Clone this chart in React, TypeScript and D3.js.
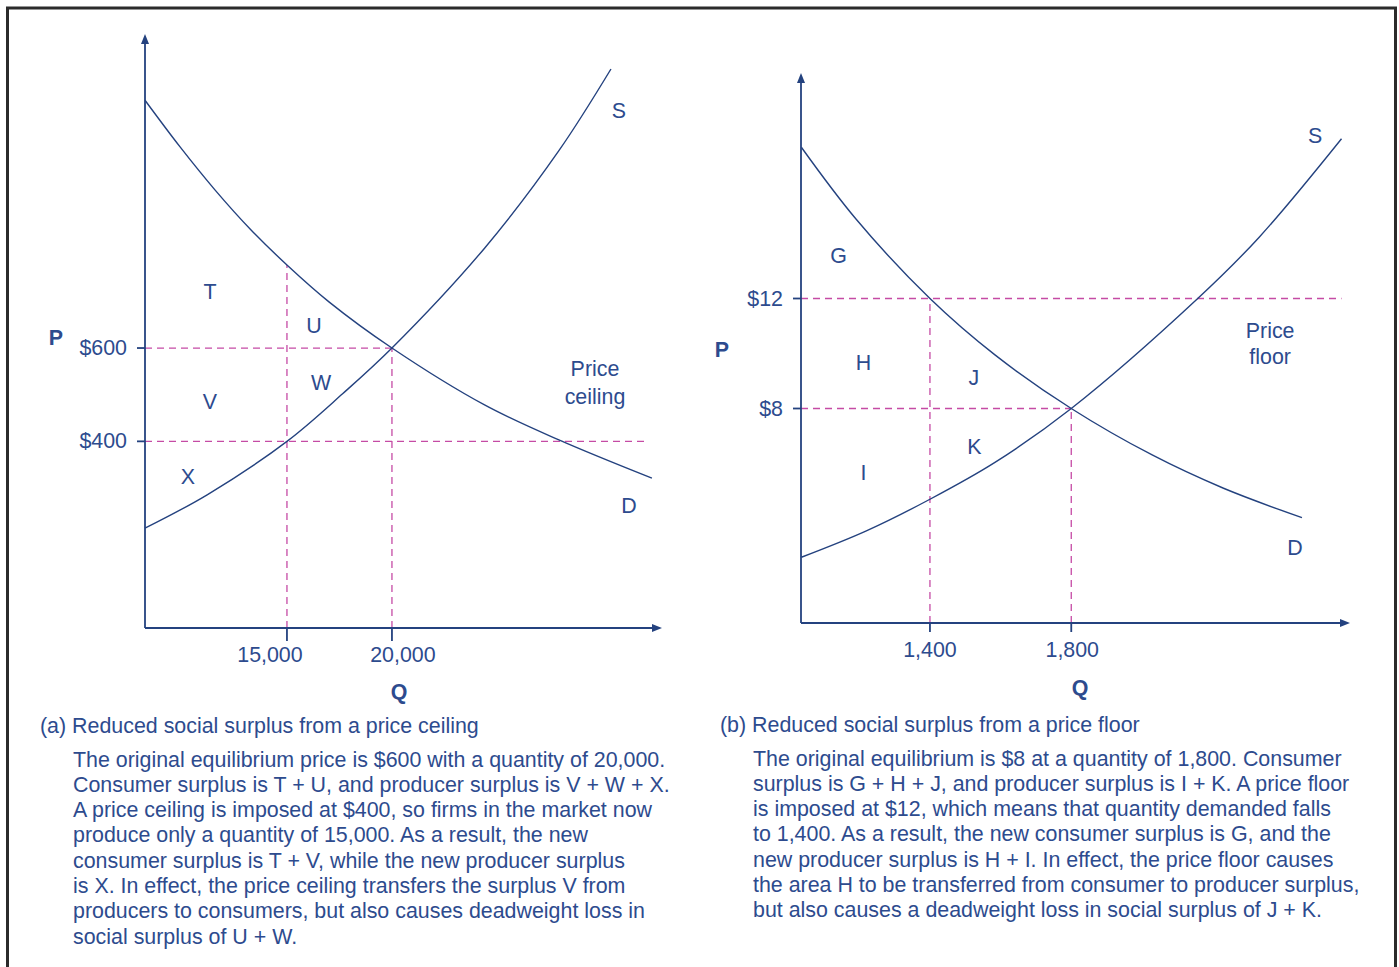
import * as d3 from 'd3';

// (Q, P) points
const ceilingDemand: [number, number][] = [
  [8240, 1131], [9910, 1031], [11570, 939], [13290, 853], [15000, 778],
  [17000, 699], [20000, 600], [24410, 478], [27950, 403], [32380, 321],
];
const ceilingSupply: [number, number][] = [
  [8240, 214], [11220, 286], [15000, 400], [17650, 502], [20000, 600],
  [24410, 814], [27950, 1023], [30430, 1198],
];
const floorDemand: [number, number][] = [
  [1036, 17.5], [1190, 14.9], [1400, 12], [1584, 9.95], [1800, 8],
  [2029, 6.31], [2231, 5.1], [2453, 4.03],
];
const floorSupply: [number, number][] = [
  [1036, 2.59], [1220, 3.55], [1400, 4.7], [1584, 6.04], [1800, 8],
  [2158, 12], [2332, 14.23], [2565, 17.81],
];

const priceTicksA = [400, 600];
const qtyTicksA = [15000, 20000];
const priceTicksB = [8, 12];
const qtyTicksB = [1400, 1800];

const fmtPrice = (v: number) => '$' + v;
const fmtQty = d3.format(',');

// area labels, in data units
const areaLabelsA: [string, number, number][] = [
  ['T', 11335, 720], ['U', 16288, 647], ['W', 16621, 525], ['V', 11335, 484],
  ['X', 10288, 324], ['S', 30811, 1108], ['D', 31288, 261],
  ['Price', 29669, 555], ['ceiling', 29669, 495],
];
const areaLabelsB: [string, number, number][] = [
  ['G', 1141, 13.53], ['H', 1212, 9.64], ['J', 1524, 9.1], ['K', 1526, 6.6],
  ['I', 1212, 5.64], ['S', 2490, 17.92], ['D', 2433, 2.91],
  ['Price', 2363, 10.83], ['floor', 2363, 9.87],
];

const captionA = '(a) Reduced social surplus from a price ceiling';
const textA = [
  'The original equilibrium price is $600 with a quantity of 20,000.',
  'Consumer surplus is T + U, and producer surplus is V + W + X.',
  'A price ceiling is imposed at $400, so firms in the market now',
  'produce only a quantity of 15,000. As a result, the new',
  'consumer surplus is T + V, while the new producer surplus',
  'is X. In effect, the price ceiling transfers the surplus V from',
  'producers to consumers, but also causes deadweight loss in',
  'social surplus of U + W.',
];
const captionB = '(b) Reduced social surplus from a price floor';
const textB = [
  'The original equilibrium is $8 at a quantity of 1,800. Consumer',
  'surplus is G + H + J, and producer surplus is I + K. A price floor',
  'is imposed at $12, which means that quantity demanded falls',
  'to 1,400. As a result, the new consumer surplus is G, and the',
  'new producer surplus is H + I. In effect, the price floor causes',
  'the area H to be transferred from consumer to producer surplus,',
  'but also causes a deadweight loss in social surplus of J + K.',
];

const TEXT = '#2d4b8e';
const CURVE = '#24427f';
const DASH = '#c54ba5';
const FONT = '"Liberation Sans", Arial, Helvetica, sans-serif';
const FS = 21.4;

interface PanelProps {
  demand: [number, number][];
  supply: [number, number][];
  qDomain: [number, number];
  qRange: [number, number];
  pDomain: [number, number];
  pRange: [number, number];
  priceTicks: number[];
  qtyTicks: number[];
  qtyLabelShift: number[];
  tickLen: number;
  control: number; // the price ceiling / floor
  controlEnd: number;
  labels: [string, number, number][];
  pLabel: [number, number];
  qLabel: [number, number];
}

const Panel = (props: PanelProps) => {
  const x = d3.scaleLinear().domain(props.qDomain).range(props.qRange);
  const y = d3.scaleLinear().domain(props.pDomain).range(props.pRange);
  const line = d3.line<[number, number]>()
    .x(d => x(d[0]))
    .y(d => y(d[1]))
    .curve(d3.curveCatmullRom.alpha(0.5));

  const x0 = x(props.qDomain[0]);
  const y0 = y(props.pDomain[0]);
  const xEnd = x(props.qDomain[1]);
  const yEnd = y(props.pDomain[1]);

  // demand price at a quantity -> top of vertical dashed line
  const demandAt = (q: number) => {
    const pts = props.demand;
    for (let i = 0; i < pts.length - 1; i++) {
      if (q >= pts[i][0] && q <= pts[i + 1][0]) {
        const t = (q - pts[i][0]) / (pts[i + 1][0] - pts[i][0]);
        return pts[i][1] + t * (pts[i + 1][1] - pts[i][1]);
      }
    }
    return pts[pts.length - 1][1];
  };
  const eqQ = Math.max(...props.qtyTicks);
  const eqP = props.priceTicks.find(p => p !== props.control)!;

  return (
    <g>
      {/* dashed guides */}
      <g stroke={DASH} strokeWidth={1.3} strokeDasharray="7,5" fill="none">
        <line x1={x0} x2={x(eqQ)} y1={y(eqP)} y2={y(eqP)} />
        <line x1={x0} x2={x(props.controlEnd)} y1={y(props.control)} y2={y(props.control)} />
        {props.qtyTicks.map(q => {
          const top = q === eqQ ? eqP : Math.max(demandAt(q), props.control);
          return <line key={q} x1={x(q)} x2={x(q)} y1={y0} y2={y(top)} />;
        })}
      </g>

      {/* curves */}
      <path d={line(props.demand)!} fill="none" stroke={CURVE} strokeWidth={1.4} />
      <path d={line(props.supply)!} fill="none" stroke={CURVE} strokeWidth={1.4} />

      {/* axes */}
      <g stroke={CURVE} strokeWidth={1.8}>
        <line x1={x0} x2={x0} y1={y0} y2={yEnd + 6} />
        <line x1={x0} x2={xEnd - 6} y1={y0} y2={y0} />
        {props.priceTicks.map(p => (
          <line key={p} x1={x0 - 8} x2={x0} y1={y(p)} y2={y(p)} />
        ))}
        {props.qtyTicks.map(q => (
          <line key={q} x1={x(q)} x2={x(q)} y1={y0} y2={y0 + props.tickLen} />
        ))}
      </g>
      <path d={`M${x0},${yEnd} L${x0 - 4},${yEnd + 10} L${x0 + 4},${yEnd + 10} Z`} fill={CURVE} />
      <path d={`M${xEnd},${y0} L${xEnd - 10},${y0 - 4} L${xEnd - 10},${y0 + 4} Z`} fill={CURVE} />

      {/* tick labels */}
      <g fill={TEXT} fontSize={FS} fontFamily={FONT}>
        {props.priceTicks.map(p => (
          <text key={p} x={x0 - 18} y={y(p)} textAnchor="end" dominantBaseline="central">
            {fmtPrice(p)}
          </text>
        ))}
        {props.qtyTicks.map((q, i) => (
          <text key={q} x={x(q) + props.qtyLabelShift[i]} y={y0 + 27} textAnchor="middle" dominantBaseline="central">
            {fmtQty(q)}
          </text>
        ))}
        {props.labels.map(([t, q, p], i) => (
          <text key={i} x={x(q)} y={y(p)} textAnchor="middle" dominantBaseline="central">
            {t}
          </text>
        ))}
        <text x={props.pLabel[0]} y={props.pLabel[1]} textAnchor="middle" dominantBaseline="central" fontWeight="bold">P</text>
        <text x={props.qLabel[0]} y={props.qLabel[1]} textAnchor="middle" dominantBaseline="central" fontWeight="bold">Q</text>
      </g>
    </g>
  );
};

const Caption = ({ x, y, title, lines }: { x: number; y: number; title: string; lines: string[] }) => (
  <g fill={TEXT} fontSize={FS} fontFamily={FONT}>
    <text x={x} y={y} dominantBaseline="central">{title}</text>
    {lines.map((l, i) => (
      <text key={i} x={x + 33} y={y + 33.5 + i * 25.3} dominantBaseline="central">{l}</text>
    ))}
  </g>
);

export default function App() {
  return (
    <div style={{ position: 'absolute', left: 0, top: 0 }}>
      <svg width={1399} height={967} style={{ display: 'block', background: '#fff' }}>
        <rect x={7.5} y={8} width={1388} height={1000} fill="none" stroke="#2b2b2b" strokeWidth={3} />
        <Panel
          demand={ceilingDemand}
          supply={ceilingSupply}
          qDomain={[8240, 32860]}
          qRange={[145, 662]}
          pDomain={[0, 1273]}
          pRange={[628, 34]}
          priceTicks={priceTicksA}
          qtyTicks={qtyTicksA}
          qtyLabelShift={[-17, 11]}
          tickLen={13}
          control={400}
          controlEnd={32190}
          labels={areaLabelsA}
          pLabel={[56, 338]}
          qLabel={[399, 692]}
        />
        <Panel
          demand={floorDemand}
          supply={floorSupply}
          qDomain={[1035, 2589]}
          qRange={[801, 1350]}
          pDomain={[0.2, 20.2]}
          pRange={[623, 73]}
          priceTicks={priceTicksB}
          qtyTicks={qtyTicksB}
          qtyLabelShift={[0, 1]}
          tickLen={9}
          control={12}
          controlEnd={2565}
          labels={areaLabelsB}
          pLabel={[722, 350]}
          qLabel={[1080, 688]}
        />
        <Caption x={40} y={726} title={captionA} lines={textA} />
        <Caption x={720} y={725} title={captionB} lines={textB} />
      </svg>
    </div>
  );
}
